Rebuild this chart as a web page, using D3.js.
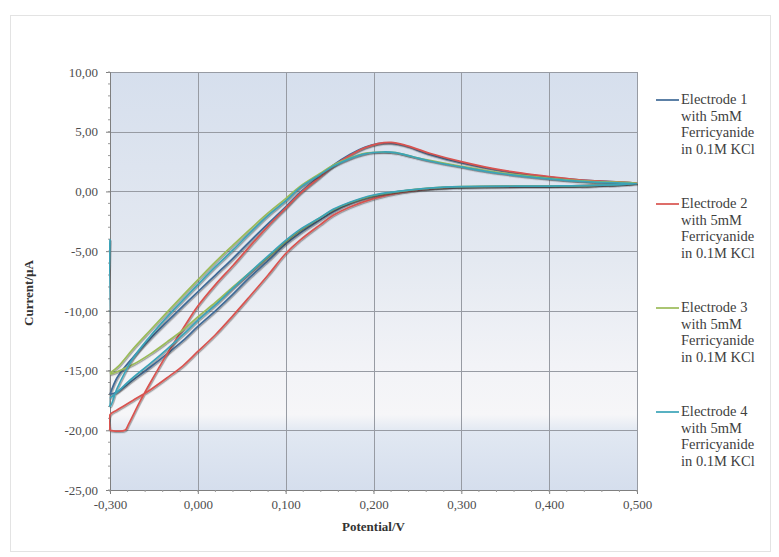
<!DOCTYPE html>
<html>
<head>
<meta charset="utf-8">
<script src="https://cdn.jsdelivr.net/npm/d3@7"></script>
<style>
  html, body { margin: 0; padding: 0; background: #fff; overflow: hidden; }
  #chart { display: block; }
</style>
</head>
<body>
<svg id="chart" width="779" height="557" font-family="'Liberation Serif', 'Times New Roman', serif"></svg>
<script>
// axis ticks and labels as they appear on the chart
const potentialTicks = [-0.1, 0, 0.1, 0.2, 0.3, 0.4, 0.5];
const potentialTickLabels = ["-0,300", "0,000", "0,100", "0,200", "0,300", "0,400", "0,500"];
const currentTicks = [10, 5, 0, -5, -10, -15, -20, -25];
const currentTickLabels = ["10,00", "5,00", "0,00", "-5,00", "-10,00", "-15,00", "-20,00", "-25,00"];

const seriesNames = ["Electrode 1", "Electrode 2", "Electrode 3", "Electrode 4"];
const seriesColors = ["#3f6a96", "#d9534f", "#9bbb59", "#3aa3b8"];

// [potential V, current uA], in scan order
const electrode1 = [
  [-0.100, -17.0], [-0.092, -15.6], [-0.074, -13.9], [-0.054, -12.3], [-0.035, -10.9], [-0.017, -9.6],
  [0.000, -8.4], [0.020, -7.0], [0.040, -5.6], [0.059, -4.2], [0.080, -2.7], [0.100, -1.3],
  [0.116, -0.1], [0.139, 1.3], [0.154, 2.2], [0.173, 3.1], [0.190, 3.7], [0.205, 4.0],
  [0.220, 4.05], [0.235, 3.85], [0.264, 3.1], [0.300, 2.4], [0.345, 1.75], [0.400, 1.2],
  [0.447, 0.9], [0.500, 0.7], [0.450, 0.5], [0.400, 0.45], [0.350, 0.42], [0.300, 0.38],
  [0.264, 0.25], [0.230, 0.0], [0.200, -0.4], [0.173, -1.0], [0.154, -1.7], [0.139, -2.4],
  [0.116, -3.5], [0.100, -4.4], [0.080, -5.8], [0.059, -7.2], [0.040, -8.6], [0.020, -10.0],
  [0.000, -11.3], [-0.017, -12.5], [-0.035, -13.6], [-0.054, -14.7], [-0.074, -15.8], [-0.092, -16.8],
  [-0.100, -17.0]
];
const electrode2 = [
  [-0.100, -20.0], [-0.083, -20.0], [-0.079, -19.5], [-0.066, -17.6], [-0.054, -16.0], [-0.035, -13.6],
  [-0.017, -11.5], [0.000, -9.6], [0.020, -7.8], [0.040, -6.2], [0.059, -4.6], [0.080, -2.9],
  [0.100, -1.4], [0.116, -0.2], [0.139, 1.2], [0.154, 2.1], [0.173, 3.0], [0.190, 3.65],
  [0.205, 4.0], [0.220, 4.1], [0.235, 3.9], [0.264, 3.2], [0.300, 2.5], [0.345, 1.8],
  [0.400, 1.25], [0.447, 0.9], [0.500, 0.7], [0.450, 0.5], [0.400, 0.45], [0.300, 0.38],
  [0.264, 0.22], [0.230, -0.1], [0.200, -0.6], [0.173, -1.3], [0.154, -2.0], [0.139, -2.8],
  [0.116, -4.1], [0.100, -5.2], [0.080, -7.0], [0.059, -8.8], [0.040, -10.4], [0.020, -12.0],
  [0.000, -13.4], [-0.017, -14.6], [-0.035, -15.6], [-0.054, -16.6], [-0.074, -17.5], [-0.092, -18.3],
  [-0.100, -18.7], [-0.100, -20.0]
];
const electrode3 = [
  [-0.100, -15.2], [-0.090, -14.6], [-0.074, -13.2], [-0.054, -11.6], [-0.035, -10.1], [-0.017, -8.7],
  [0.000, -7.4], [0.020, -5.9], [0.040, -4.5], [0.059, -3.2], [0.080, -1.8], [0.100, -0.6],
  [0.116, 0.4], [0.139, 1.5], [0.154, 2.2], [0.173, 2.8], [0.190, 3.2], [0.210, 3.3],
  [0.225, 3.25], [0.245, 2.9], [0.264, 2.6], [0.300, 2.1], [0.345, 1.55], [0.400, 1.1],
  [0.447, 0.85], [0.500, 0.7], [0.450, 0.5], [0.400, 0.45], [0.300, 0.4], [0.264, 0.27],
  [0.230, 0.0], [0.200, -0.35], [0.173, -0.95], [0.154, -1.55], [0.139, -2.2], [0.116, -3.3],
  [0.100, -4.2], [0.080, -5.5], [0.059, -6.8], [0.040, -8.0], [0.020, -9.3], [0.000, -10.5],
  [-0.017, -11.6], [-0.035, -12.6], [-0.054, -13.6], [-0.074, -14.5], [-0.092, -15.1], [-0.100, -15.3]
];
const electrode4 = [
  [-0.100, -4.0], [-0.100, -18.0], [-0.092, -16.5], [-0.074, -14.0], [-0.054, -12.1], [-0.035, -10.5],
  [-0.017, -9.1], [0.000, -7.8], [0.020, -6.3], [0.040, -4.9], [0.059, -3.5], [0.080, -2.0],
  [0.100, -0.8], [0.116, 0.3], [0.139, 1.4], [0.154, 2.1], [0.173, 2.75], [0.190, 3.15],
  [0.210, 3.3], [0.225, 3.25], [0.245, 2.9], [0.264, 2.55], [0.300, 2.05], [0.345, 1.5],
  [0.400, 1.05], [0.447, 0.8], [0.500, 0.65], [0.450, 0.5], [0.400, 0.45], [0.300, 0.4],
  [0.264, 0.28], [0.230, 0.02], [0.200, -0.3], [0.173, -0.9], [0.154, -1.5], [0.139, -2.2],
  [0.116, -3.2], [0.100, -4.1], [0.080, -5.4], [0.059, -6.8], [0.040, -8.1], [0.020, -9.5],
  [0.000, -10.8], [-0.017, -12.0], [-0.035, -13.2], [-0.054, -14.4], [-0.074, -15.6], [-0.092, -16.8],
  [-0.100, -17.3]
];
const seriesData = [electrode1, electrode2, electrode3, electrode4];

const svg = d3.select("#chart");
const margin = { top: 72, right: 142, bottom: 67, left: 110 };
const innerWidth = 779 - margin.left - margin.right;
const innerHeight = 557 - margin.top - margin.bottom;

// outer chart border
svg.append("rect")
  .attr("x", 10.5).attr("y", 15.5)
  .attr("width", 760).attr("height", 536)
  .attr("fill", "none")
  .attr("stroke", "#e3e3e3");

const defs = svg.append("defs");
const grad = defs.append("linearGradient")
  .attr("id", "plotFill")
  .attr("x1", 0).attr("y1", 0).attr("x2", 0).attr("y2", 1);
[["0%", "#d6dfed"], ["45%", "#e4e9f1"], ["70%", "#f2f3f7"], ["82%", "#f6f6f8"], ["86%", "#e1e8f2"], ["100%", "#d5deed"]]
  .forEach(([o, c]) => grad.append("stop").attr("offset", o).attr("stop-color", c));

defs.append("clipPath").attr("id", "plotClip")
  .append("rect").attr("x", -1).attr("y", -1)
  .attr("width", innerWidth + 2).attr("height", innerHeight + 2);

const shadow = defs.append("filter").attr("id", "lineShadow")
  .attr("x", "-5%").attr("y", "-5%").attr("width", "110%").attr("height", "110%");
shadow.append("feDropShadow")
  .attr("dx", 0.8).attr("dy", 1.2).attr("stdDeviation", 0.7)
  .attr("flood-color", "#333").attr("flood-opacity", 0.45);

const chart = svg.append("g")
  .attr("transform", `translate(${margin.left},${margin.top})`);

const x = d3.scaleLinear().domain([-0.1, 0.5]).range([0, innerWidth]);
const y = d3.scaleLinear().domain([-25, 10]).range([innerHeight, 0]);

// plot background
chart.append("rect")
  .attr("width", innerWidth).attr("height", innerHeight)
  .attr("fill", "url(#plotFill)");

// gridlines
chart.append("g")
  .selectAll("line")
  .data(currentTicks)
  .join("line")
  .attr("x1", 0).attr("x2", innerWidth)
  .attr("y1", d => Math.round(y(d)) + 0.5).attr("y2", d => Math.round(y(d)) + 0.5)
  .attr("stroke", "#979ba3");

chart.append("g")
  .selectAll("line")
  .data(potentialTicks)
  .join("line")
  .attr("x1", d => Math.round(x(d)) + 0.5).attr("x2", d => Math.round(x(d)) + 0.5)
  .attr("y1", 0).attr("y2", innerHeight)
  .attr("stroke", "#979ba3");

// axes
const yAxis = d3.axisLeft(y)
  .tickValues(currentTicks)
  .tickFormat((d, i) => currentTickLabels[i])
  .tickSize(4)
  .tickPadding(8);
const yAxisG = chart.append("g").attr("class", "axis").call(yAxis);

const xAxis = d3.axisBottom(x)
  .tickValues(potentialTicks)
  .tickFormat((d, i) => potentialTickLabels[i])
  .tickSize(4)
  .tickPadding(6);
const xAxisG = chart.append("g").attr("class", "axis")
  .attr("transform", `translate(0,${innerHeight})`)
  .call(xAxis);

[yAxisG, xAxisG].forEach(g => {
  g.attr("font-family", null).attr("font-size", null);
  g.select(".domain").attr("stroke", "#7f7f7f");
  g.selectAll(".tick line").attr("stroke", "#7f7f7f");
  g.selectAll("text")
    .attr("fill", "#4d4d4d")
    .attr("font-size", 13);
});

// minor ticks
chart.append("g")
  .selectAll("line")
  .data(d3.range(-25, 10.01, 1))
  .join("line")
  .attr("x1", -2).attr("x2", 0)
  .attr("y1", d => y(d)).attr("y2", d => y(d))
  .attr("stroke", "#9a9a9a");
chart.append("g")
  .selectAll("line")
  .data(d3.range(-0.1, 0.5001, 0.02))
  .join("line")
  .attr("x1", d => x(d)).attr("x2", d => x(d))
  .attr("y1", innerHeight).attr("y2", innerHeight + 2)
  .attr("stroke", "#9a9a9a");

// CV curves
const line = d3.line()
  .x(d => x(d[0]))
  .y(d => y(d[1]))
  .curve(d3.curveCatmullRom.alpha(0.5));

chart.append("g")
  .attr("clip-path", "url(#plotClip)")
  .selectAll("path")
  .data(seriesData)
  .join("path")
  .attr("d", line)
  .attr("fill", "none")
  .attr("stroke", (d, i) => seriesColors[i])
  .attr("stroke-width", 1.7)
  .attr("stroke-linejoin", "round")
  .attr("filter", "url(#lineShadow)");

// axis titles
svg.append("text")
  .attr("x", margin.left + innerWidth / 2)
  .attr("y", 531)
  .attr("text-anchor", "middle")
  .attr("font-size", 13)
  .attr("font-weight", "bold")
  .attr("fill", "#333")
  .text("Potential/V");

svg.append("text")
  .attr("transform", `translate(33,${margin.top + innerHeight / 2 + 12}) rotate(-90)`)
  .attr("text-anchor", "middle")
  .attr("font-size", 13)
  .attr("font-weight", "bold")
  .attr("fill", "#333")
  .text("Current/µA");

// legend, one text per line
const legendLines = ["with 5mM", "Ferricyanide", "in 0.1M KCl"];
const legend = svg.append("g").attr("transform", "translate(656,104)");
seriesNames.forEach((name, i) => {
  const g = legend.append("g").attr("transform", `translate(0,${i * 104})`);
  g.append("line")
    .attr("x1", 0).attr("x2", 23)
    .attr("y1", -4).attr("y2", -4)
    .attr("stroke", seriesColors[i])
    .attr("stroke-width", 1.7);
  [name, ...legendLines].forEach((s, j) => {
    g.append("text")
      .attr("x", 25)
      .attr("y", j * 16.5)
      .attr("fill", "#404040")
      .attr("font-size", 14.5)
      .text(s);
  });
});
</script>
</body>
</html>
